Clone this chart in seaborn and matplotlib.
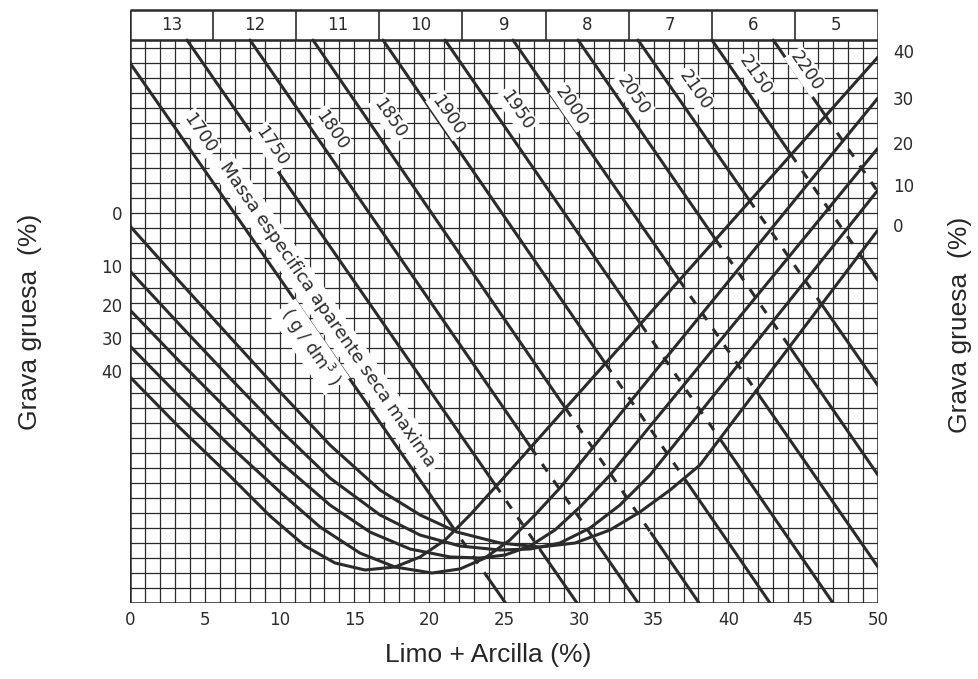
import matplotlib
matplotlib.use("Agg")
import matplotlib.pyplot as plt
import seaborn as sns
import pandas as pd

sns.set_theme(style="white")
plt.rcParams['font.family'] = ['DejaVu Sans']

# ---------------- data ----------------
x_ticks = [0, 5, 10, 15, 20, 25, 30, 35, 40, 45, 50]
header_labels = ["13", "12", "11", "10", "9", "8", "7", "6", "5"]

density_labels = ["1700", "1750", "1800", "1850", "1900", "1950",
                  "2000", "2050", "2100", "2150", "2200"]
density_x0 = [0.00, 3.81, 8.02, 12.23, 16.91, 21.06, 25.60, 29.95, 33.96, 38.90, 43.00]
density_y0 = [36.00, 37.53, 37.53, 37.53, 37.53, 37.53, 37.53, 37.53, 37.53, 37.53, 37.53]
density_x1 = [25.10, 29.88, 33.96, 38.04, 42.78, 46.99, 50.00, 50.00, 50.00, 50.00, 50.00]
density_y1 = [0.00, 0.00, 0.00, 0.00, 0.00, 0.00, 2.40, 8.53, 14.50, 21.50, 27.40]
dash_from = [21.40, 24.40, 26.80, 29.14, 31.82, 34.16, 36.70, 39.17, 41.38, 44.18, 46.52]
dash_to = [23.86, 27.41, 31.02, 34.83, 37.23, 39.44, 41.84, 44.12, 46.19, 48.80, 50.00]
density_lab_x = [4.68, 9.47, 13.48, 17.38, 21.26, 25.85, 29.53, 33.62, 37.77, 41.78, 45.23]
density_lab_y = [31.33, 30.42, 31.53, 32.33, 32.53, 32.87, 33.09, 33.87, 34.20, 35.20, 35.42]

gravel_left_labels = ["0", "10", "20", "30", "40"]
gravel_left_y = [25.87, 22.33, 19.73, 17.53, 15.33]
gravel_right_labels = ["40", "30", "20", "10", "0"]
gravel_right_y = [36.67, 33.53, 30.53, 27.73, 25.07]

g0_x = [0.00, 3.34, 6.68, 10.03, 13.37, 16.71, 19.39, 21.86, 24.73, 27.41,
        29.75, 32.09, 34.09, 36.10, 38.10, 50.00]
g0_y = [25.13, 21.40, 17.73, 14.07, 10.53, 7.53, 5.87, 4.73, 4.00, 3.73,
        4.00, 4.87, 6.07, 7.53, 9.20, 24.87]
g10_x = [0.00, 3.34, 6.68, 10.03, 13.37, 16.71, 19.39, 22.06, 24.73, 26.74,
         28.74, 30.75, 32.75, 34.76, 50.00]
g10_y = [22.13, 18.53, 15.00, 11.53, 8.33, 5.87, 4.53, 3.80, 3.53, 3.60,
         4.00, 5.00, 6.53, 8.53, 27.53]
g20_x = [0.00, 3.34, 6.68, 10.03, 13.37, 16.04, 18.72, 21.39, 23.40, 25.07,
         26.74, 28.41, 30.08, 32.09, 50.00]
g20_y = [19.53, 16.07, 12.73, 9.40, 6.53, 4.73, 3.60, 3.07, 3.00, 3.20,
         3.80, 4.87, 6.40, 8.53, 30.33]
g30_x = [0.00, 3.34, 6.68, 10.03, 12.70, 15.37, 17.71, 20.19, 22.06, 23.73,
         25.40, 27.07, 28.74, 50.00]
g30_y = [17.13, 13.73, 10.47, 7.40, 5.07, 3.33, 2.40, 2.00, 2.27, 3.00,
         4.20, 5.87, 7.67, 33.67]
g40_x = [0.00, 3.34, 6.68, 9.36, 11.70, 13.70, 15.71, 17.71, 19.39, 21.06,
         22.73, 24.73, 50.00]
g40_y = [15.07, 11.67, 8.47, 5.80, 3.80, 2.67, 2.20, 2.40, 3.07, 4.20,
         5.87, 8.07, 36.40]

title_text = "Massa especifica aparente seca maxima"
unit_text = "( g / dm$^3$ )"
x_title = "Limo + Arcilla (%)"
y_title = "Grava gruesa  (%)"

# ---------------- figure ----------------
W, H = 979, 679
fig = plt.figure(figsize=(W / 100, H / 100), dpi=100)
ax = fig.add_axes([130 / W, (H - 603) / H, 748 / W, 594 / H])
ax.set_xlim(0, 50)
ax.set_ylim(0, 39.6)
for s in ax.spines.values():
    s.set_visible(False)
ax.set_xticks([])
ax.set_yticks([])

grid_top = 37.53
ink = "#2b2b2b"
# fine grid
ax.vlines(range(0, 51), 0, grid_top, color=ink, lw=0.9, zorder=1)
ax.hlines(list(range(0, 38)) + [grid_top], 0, 50, color=ink, lw=0.9, zorder=1)
# frame
ax.vlines([0, 50], 0, grid_top + 2.0, color=ink, lw=1.8, zorder=5)
ax.hlines([0, grid_top, grid_top + 2.0], 0, 50, color=ink, lw=1.8, zorder=5)
# header
cell = 50 / 9
ax.vlines([cell * i for i in range(1, 9)], grid_top, grid_top + 2.0, color=ink, lw=1.2, zorder=5)
for i, lab in enumerate(header_labels):
    ax.text(cell * (i + 0.5), grid_top + 1.0, lab, ha="center", va="center",
            fontsize=12, color=ink, zorder=6)

ang = -55.4
# density lines
for i, lab in enumerate(density_labels):
    x0, y0, x1, y1 = density_x0[i], density_y0[i], density_x1[i], density_y1[i]
    slope = (y1 - y0) / (x1 - x0)
    xa, xb = dash_from[i], dash_to[i]
    ya, yb = y0 + slope * (xa - x0), y0 + slope * (xb - x0)
    seg = pd.DataFrame({"x": [x0, xa], "y": [y0, ya]})
    sns.lineplot(data=seg, x="x", y="y", ax=ax, color=ink, lw=2.2, sort=False,
                 estimator=None, zorder=3)
    segd = pd.DataFrame({"x": [xa, xb], "y": [ya, yb]})
    sns.lineplot(data=segd, x="x", y="y", ax=ax, color=ink, lw=2.2, sort=False,
                 estimator=None, zorder=3, dashes=(3, 3.5))
    if xb < x1:
        seg2 = pd.DataFrame({"x": [xb, x1], "y": [yb, y1]})
        sns.lineplot(data=seg2, x="x", y="y", ax=ax, color=ink, lw=2.2, sort=False,
                     estimator=None, zorder=3)
    ax.text(density_lab_x[i], density_lab_y[i], lab, rotation=ang, rotation_mode="anchor",
            ha="center", va="center", fontsize=12.5, color=ink, zorder=6,
            bbox=dict(boxstyle="square,pad=0.12", fc="white", ec="none"))

# gravel curves
for cx, cy in [(g0_x, g0_y), (g10_x, g10_y), (g20_x, g20_y), (g30_x, g30_y), (g40_x, g40_y)]:
    df = pd.DataFrame({"x": cx, "y": cy})
    sns.lineplot(data=df, x="x", y="y", ax=ax, color=ink, lw=2.2, sort=False,
                 estimator=None, zorder=4)

ax.text(13.17, 19.2, title_text, rotation=ang, rotation_mode="anchor", ha="center",
        va="center", fontsize=13, color=ink, zorder=6,
        bbox=dict(boxstyle="square,pad=0.25", fc="white", ec="none"))
ax.text(12.03, 17.07, unit_text, rotation=ang, rotation_mode="anchor", ha="center",
        va="center", fontsize=12.5, color=ink, zorder=6,
        bbox=dict(boxstyle="square,pad=0.2", fc="white", ec="none"))

# tick labels
for v in x_ticks:
    ax.text(v, -1.15, str(v), ha="center", va="center", fontsize=12, color=ink)
for lab, yv in zip(gravel_left_labels, gravel_left_y):
    ax.text(-0.5, yv, lab, ha="right", va="center", fontsize=12, color=ink)
for lab, yv in zip(gravel_right_labels, gravel_right_y):
    ax.text(1.0 + 50, yv, lab, ha="left", va="center", fontsize=12, color=ink)

ax.set_xlabel("")
ax.set_ylabel("")
fig.text(488 / W, 1 - 655 / H, x_title, ha="center", va="center", fontsize=19,
         family="Liberation Sans")
fig.text(30 / W, 1 - 322 / H, y_title, ha="center", va="center", fontsize=19,
         rotation=90, family="Liberation Sans")
fig.text(960 / W, 1 - 325 / H, y_title, ha="center", va="center", fontsize=19,
         rotation=90, family="Liberation Sans")

fig.savefig("out.png", dpi=100, facecolor="white")
